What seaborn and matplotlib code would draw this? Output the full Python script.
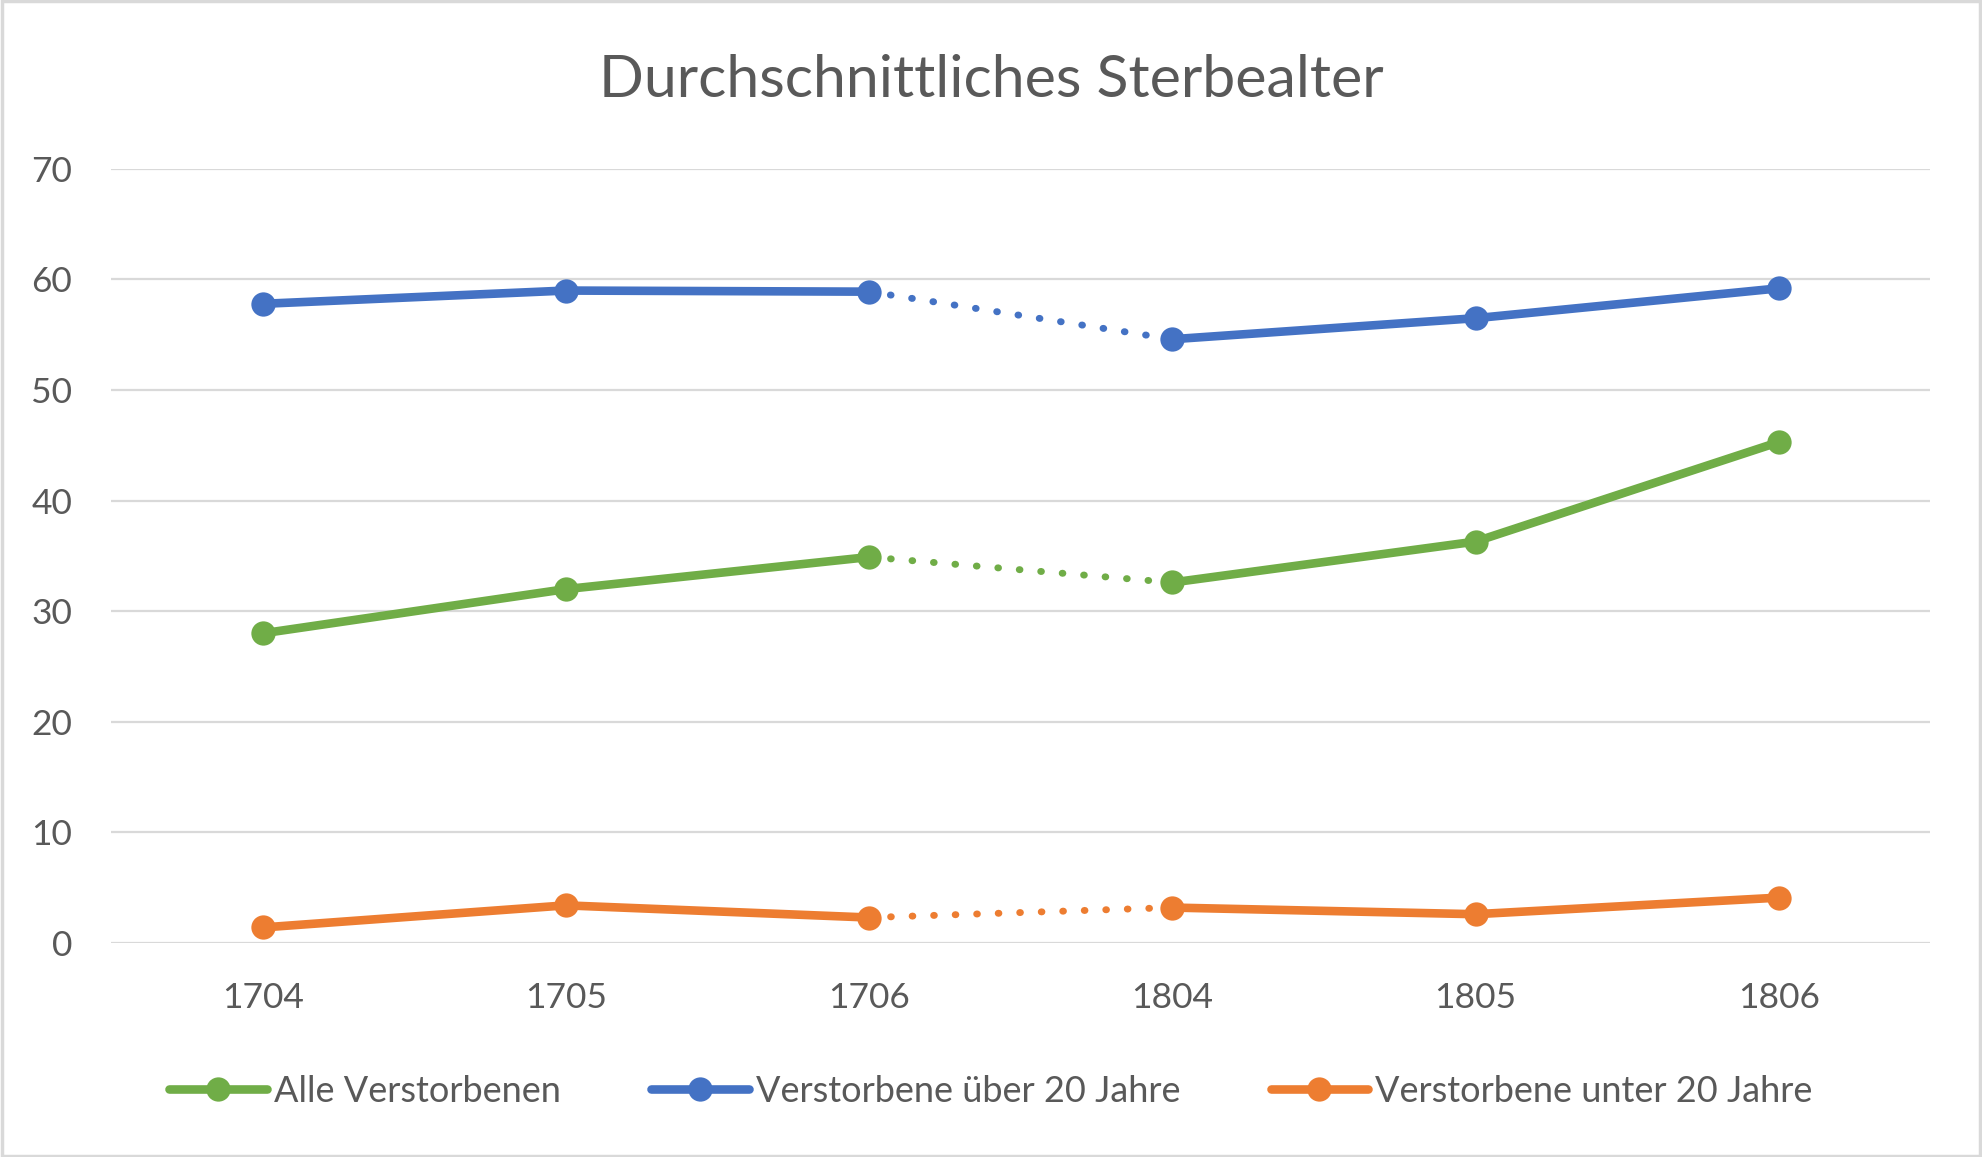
import pandas as pd
import seaborn as sns
import matplotlib.pyplot as plt
from matplotlib.lines import Line2D
from matplotlib.patches import Rectangle

jahre = ["1704", "1705", "1706", "1804", "1805", "1806"]
alle = [28.0, 32.0, 34.9, 32.6, 36.3, 45.3]
ueber_20 = [57.8, 59.0, 58.9, 54.6, 56.5, 59.2]
unter_20 = [1.4, 3.4, 2.3, 3.2, 2.6, 4.1]

serien = [
    ("Alle Verstorbenen", alle, "#70AD47"),
    ("Verstorbene über 20 Jahre", ueber_20, "#4472C4"),
    ("Verstorbene unter 20 Jahre", unter_20, "#ED7D31"),
]

sns.set_theme(style="white")
plt.rcParams["font.family"] = ["Lato", "DejaVu Sans"]
grau = "#595959"

fig = plt.figure(figsize=(19.82, 11.57), dpi=100)
ax = fig.add_axes([0.056, 0.185, 0.918, 0.669])

# x-Achse als Kategorien festlegen
ax.plot(jahre, [None] * len(jahre))

for name, werte, farbe in serien:
    df = pd.DataFrame({"Jahr": jahre, "Wert": werte})
    # durchgezogene Teile
    for teil in (df.iloc[0:3], df.iloc[3:6]):
        sns.lineplot(data=teil, x="Jahr", y="Wert", ax=ax, color=farbe, lw=6.2,
                     marker="o", markersize=17.5, markeredgewidth=0,
                     sort=False, clip_on=False, zorder=3)
    # gepunktete Lücke
    luecke = df.iloc[2:4]
    sns.lineplot(data=luecke, x="Jahr", y="Wert", ax=ax, color=farbe, lw=5,
                 dashes=False, sort=False, zorder=2,
                 linestyle=(0, (0.1, 3.0)), dash_capstyle="round")

ax.set_ylim(0, 70)
ax.set_xlim(-0.5, len(jahre) - 0.5)
ax.set_yticks(range(0, 71, 10))
ax.yaxis.grid(True, color="#D9D9D9", lw=1.6)
ax.xaxis.grid(False)
ax.set_axisbelow(True)
for s in ax.spines.values():
    s.set_visible(False)
ax.tick_params(axis="both", length=0, labelsize=25.5, labelcolor=grau)
ax.tick_params(axis="x", pad=28)
ax.tick_params(axis="y", pad=28)
ax.set_xlabel("")
ax.set_ylabel("")

fig.text(0.5, 0.93, "Durchschnittliches Sterbealter", ha="center", va="center",
         fontsize=42.5, color=grau)

handles = [Line2D([], [], color=f, lw=6.2, marker="o", markersize=17.5,
                  markeredgewidth=0) for _, _, f in serien]
fig.legend(handles, [n for n, _, _ in serien], loc="center",
           bbox_to_anchor=(0.5, 0.057), ncol=3, frameon=False, fontsize=26,
           labelcolor=grau, handlelength=2.7, handletextpad=0.2,
           columnspacing=2.5)

fig.add_artist(Rectangle((0.001, 0.001), 0.998, 0.998, transform=fig.transFigure,
                         fill=False, edgecolor="#D9D9D9", lw=2.5))

fig.savefig("out.png", dpi=100)
